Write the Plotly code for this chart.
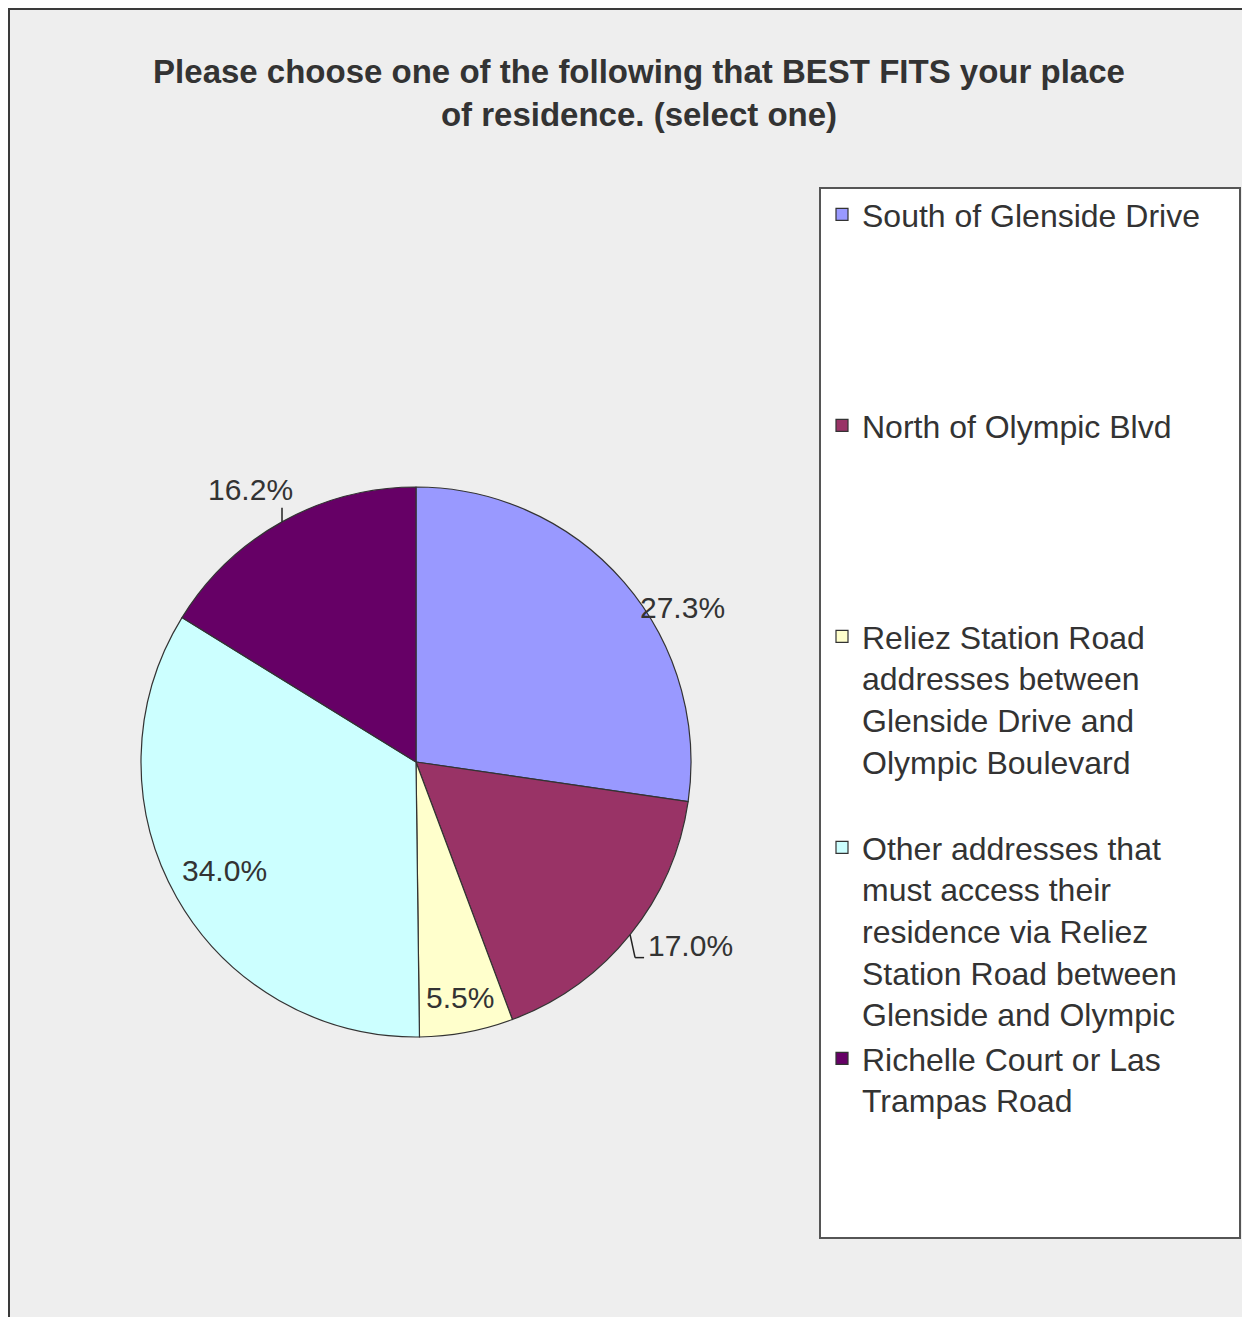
import math
import plotly.graph_objects as go

# ---- data ----
categories = [
    "South of Glenside Drive",
    "North of Olympic Blvd",
    "Reliez Station Road<br>addresses between<br>Glenside Drive and<br>Olympic Boulevard",
    "Other addresses that<br>must access their<br>residence via Reliez<br>Station Road between<br>Glenside and Olympic",
    "Richelle Court or Las<br>Trampas Road",
]
percents = [27.3, 17.0, 5.5, 34.0, 16.2]
colors = ["#9999FF", "#993366", "#FFFFCC", "#CCFFFF", "#660066"]
title_text = ("Please choose one of the following that BEST FITS your place"
              "<br>of residence. (select one)")

# ---- layout constants (page pixels) ----
W, H = 1250, 1317
OFF = 8  # default page body margin
CX, CY, R = 416, 762, 275
TEXT = "#333333"

def px(x):
    return (x - OFF) / W

def py(y):
    return 1 - (y - OFF) / H

# pad legend entries to equal height
LINES = 5
legend_labels = [c + "<br> " * (LINES - c.count("<br>") - 1) for c in categories]

fig = go.Figure(go.Pie(
    labels=legend_labels,
    values=percents,
    marker=dict(colors=colors, line=dict(color="#333333", width=1.2)),
    sort=False,
    direction="clockwise",
    rotation=0,
    textinfo="none",
    textposition="none",
    hoverinfo="label+percent",
    domain=dict(x=[px(CX - R), px(CX + R)], y=[py(CY + R), py(CY - R)]),
))

shapes = [
    # chart area background with border
    dict(type="rect", xref="paper", yref="paper", x0=px(9), x1=px(W + 30),
         y0=py(H + 30), y1=py(9), fillcolor="#EEEEEE",
         line=dict(color="#3a3a3a", width=2), layer="below"),
    # legend box
    dict(type="rect", xref="paper", yref="paper", x0=px(820), x1=px(1240),
         y0=py(1238), y1=py(188), fillcolor="#FFFFFF",
         line=dict(color="#555555", width=2), layer="below"),
]

# label placement styles (radial factor + pixel shift from that point)
label_r = [1.0, 1.0, 0.87, 0.80, 1.0]
label_shift = [(59, 25), (60, 11), (0, 0), (0, 0), (-32, -32)]
leaders = [None, [(0, 0), (5, 23), (14, 23)], None, None, [(0, 0), (0, -14)]]

annotations = []
total = sum(percents)
cum = 0.0
for i, v in enumerate(percents):
    mid = (cum + v / 2) / total
    cum += v
    ang = math.radians(90 - 360 * mid)
    bx = CX + label_r[i] * R * math.cos(ang)
    by = CY - label_r[i] * R * math.sin(ang)
    lx, ly = bx + label_shift[i][0], by + label_shift[i][1]
    annotations.append(dict(
        x=px(lx), y=py(ly), xref="paper", yref="paper",
        text=f"{v / total * 100:.1f}%", showarrow=False,
        xanchor="center", yanchor="middle",
        font=dict(family="Liberation Sans, Arial, sans-serif", size=30, color=TEXT),
    ))
    if leaders[i]:
        ex = CX + R * math.cos(ang)
        ey = CY - R * math.sin(ang)
        pts = leaders[i]
        for (ax0, ay0), (ax1, ay1) in zip(pts[:-1], pts[1:]):
            shapes.append(dict(type="line", xref="paper", yref="paper",
                               x0=px(ex + ax0), y0=py(ey + ay0),
                               x1=px(ex + ax1), y1=py(ey + ay1),
                               line=dict(color="#222222", width=1.5)))

fig.update_layout(
    width=W, height=H,
    margin=dict(l=0, r=0, t=0, b=0),
    paper_bgcolor="#FFFFFF",
    plot_bgcolor="#EEEEEE",
    title=dict(
        text=title_text, x=px(639), xanchor="center",
        y=py(83), yanchor="top",
        font=dict(family="Liberation Sans, Arial, sans-serif", size=33, color=TEXT,
                  weight="bold"),
    ),
    showlegend=True,
    legend=dict(
        x=px(822), xanchor="left", y=py(187), yanchor="top",
        bgcolor="rgba(0,0,0,0)", borderwidth=0,
        valign="top", traceorder="normal",
        font=dict(family="Liberation Sans, Arial, sans-serif", size=32, color=TEXT),
    ),
    shapes=shapes,
    annotations=annotations,
)

fig.write_html("out.html")
